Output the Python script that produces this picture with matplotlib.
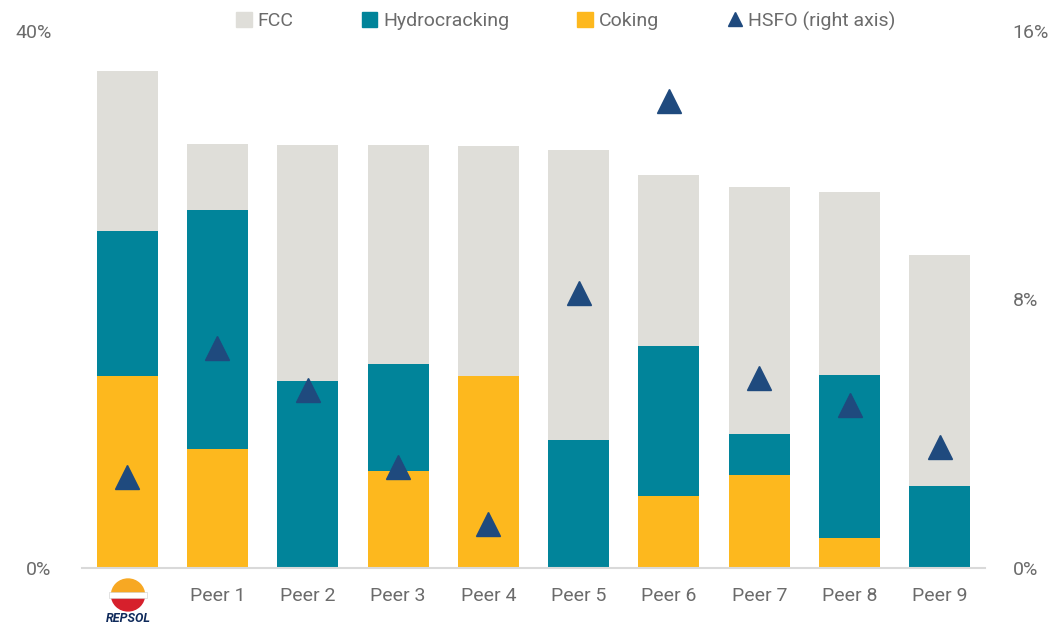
import numpy as np
import matplotlib.pyplot as plt
from matplotlib.patches import Wedge, Rectangle
from matplotlib.lines import Line2D
from matplotlib.patches import Patch

plt.rcParams['font.family'] = ['Roboto', 'DejaVu Sans']

categories = ["Repsol", "Peer 1", "Peer 2", "Peer 3", "Peer 4",
              "Peer 5", "Peer 6", "Peer 7", "Peer 8", "Peer 9"]
coking = [14.3, 8.9, 0.0, 7.2, 14.3, 0.0, 5.4, 6.9, 2.2, 0.0]
hydrocracking = [10.8, 17.8, 13.9, 8.0, 0.0, 9.5, 11.1, 3.1, 12.2, 6.1]
fcc = [11.9, 4.9, 17.6, 16.3, 17.1, 21.6, 12.8, 18.4, 13.6, 17.2]
hsfo = [2.7, 6.55, 5.3, 3.0, 1.3, 8.2, 13.9, 5.65, 4.85, 3.6]

c_fcc = "#DFDED9"
c_hc = "#01849A"
c_cok = "#FDB81E"
c_hsfo = "#1F4A7E"
grey = "#6b6b6b"

fig = plt.figure(figsize=(10.49, 6.24), dpi=100)
ax = fig.add_axes([82 / 1049, 56 / 624, 903 / 1049, 537 / 624])
ax2 = ax.twinx()

x = np.arange(len(categories))
w = 0.675
cok = np.array(coking)
hc = np.array(hydrocracking)
ax.bar(x, cok, w, color=c_cok, zorder=2)
ax.bar(x, hc, w, bottom=cok, color=c_hc, zorder=2)
ax.bar(x, fcc, w, bottom=cok + hc, color=c_fcc, zorder=2)

ax2.plot(x, hsfo, linestyle="none", marker="^", markersize=17,
         color=c_hsfo, zorder=3)

ax.set_xlim(-0.5, 9.5)
ax.set_ylim(0, 40)
ax2.set_ylim(0, 16)
ax.set_yticks([0, 40])
ax.set_yticklabels(["0%", "40%"])
ax2.set_yticks([0, 8, 16])
ax2.set_yticklabels(["0%", "8%", "16%"])
ax.set_xticks(x)
ax.set_xticklabels([""] + categories[1:])

for a in (ax, ax2):
    for s in a.spines.values():
        s.set_visible(False)
    a.tick_params(length=0, labelsize=14, labelcolor=grey)
ax.spines["bottom"].set_visible(True)
ax.spines["bottom"].set_color("#d9d9d9")
ax.spines["bottom"].set_linewidth(1.5)
ax.tick_params(axis="y", pad=22)
ax2.tick_params(axis="y", pad=20)
ax.tick_params(axis="x", pad=14)

# Repsol logo under the first bar
lax = fig.add_axes([98 / 1049, 0 / 624, 60 / 1049, 52 / 624])
lax.set_xlim(-1.2, 1.2)
lax.set_ylim(-1.15, 1.0)
lax.axis("off")
lax.add_patch(Wedge((0, 0.05), 0.66, 0, 180, color="#F7A823"))
lax.add_patch(Wedge((0, 0.05), 0.66, 180, 360, color="#D6202C"))
lax.add_patch(Rectangle((-0.75, -0.06), 1.5, 0.22, color="white", ec="#cccccc", lw=0.4))
lax.text(0, -0.92, "REPSOL", ha="center", va="center", fontsize=9,
         fontweight="bold", fontstyle="italic", color="#0F2A5B")

handles = [
    Patch(color=c_fcc, label="FCC"),
    Patch(color=c_hc, label="Hydrocracking"),
    Patch(color=c_cok, label="Coking"),
    Line2D([], [], linestyle="none", marker="^", markersize=10,
           color=c_hsfo, label="HSFO (right axis)"),
]
fig.legend(handles=handles, loc="center", bbox_to_anchor=(566 / 1049, 1 - 21 / 624),
           ncol=4, frameon=False, fontsize=14, labelcolor=grey,
           handlelength=0.8, handleheight=0.8, handletextpad=0.3,
           columnspacing=3.5)

fig.savefig("out.png", dpi=100)
